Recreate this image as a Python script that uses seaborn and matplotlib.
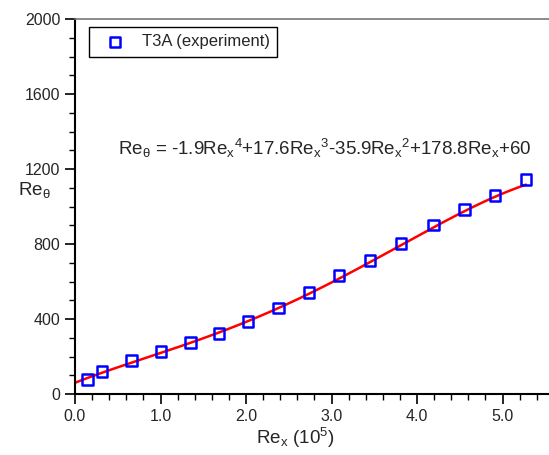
import numpy as np
import pandas as pd
import matplotlib
matplotlib.use("Agg")
import matplotlib.pyplot as plt
from matplotlib.ticker import MultipleLocator, FormatStrFormatter
import seaborn as sns

# Data
rex = [0.144, 0.316, 0.663, 1.006, 1.349, 1.684, 2.023, 2.382, 2.737, 3.088,
       3.45, 3.813, 4.19, 4.553, 4.912, 5.275]
re_theta = [79, 119, 178, 225, 273, 323, 386, 459, 543, 630,
            714, 801, 901, 986, 1060, 1142]
# polynomial fit coefficients, highest order first (from annotation)
fit_coeffs = [-1.9, 17.6, -35.9, 178.8, 60]
series_label = "T3A (experiment)"

sns.set_style("ticks")
plt.rcParams['font.family'] = ['Liberation Sans', 'DejaVu Sans']
plt.rcParams['mathtext.fontset'] = 'custom'
plt.rcParams['mathtext.rm'] = 'Liberation Sans'
plt.rcParams['mathtext.it'] = 'Liberation Sans:italic'

fig = plt.figure(figsize=(5.49, 4.55), dpi=100)
ax = fig.add_axes([75/549, 1-394/455, (549-75)/549, (394-19)/455])

df = pd.DataFrame({"x": rex, "y": re_theta})
xfit = np.linspace(0, max(rex), 200)
fit_df = pd.DataFrame({"x": xfit, "y": np.polyval(fit_coeffs, xfit)})

sns.lineplot(data=fit_df, x="x", y="y", color="#ff0000", linewidth=1.8, ax=ax, legend=False)
sns.scatterplot(data=df, x="x", y="y", marker="s", s=60, facecolor="none",
                edgecolor="#0000ff", linewidth=1.8, ax=ax, label=series_label, zorder=3)

ax.set_xlim(0, (549-75)/85.5)
ax.set_ylim(0, 2000)
ax.xaxis.set_major_locator(MultipleLocator(1.0))
ax.xaxis.set_minor_locator(MultipleLocator(0.2))
ax.xaxis.set_major_formatter(FormatStrFormatter("%.1f"))
ax.yaxis.set_major_locator(MultipleLocator(400))
ax.yaxis.set_minor_locator(MultipleLocator(100))

ax.tick_params(axis='both', which='major', length=7, width=1.2, labelsize=11.5, direction='out', color='black')
ax.tick_params(axis='both', which='minor', length=4, width=1.0, direction='out', color='black')

for s in ['left', 'bottom']:
    ax.spines[s].set_color('black')
    ax.spines[s].set_linewidth(1.5)
ax.spines['top'].set_color('#777777')
ax.spines['top'].set_linewidth(1.2)
ax.spines['right'].set_visible(False)

ax.set_xlabel(r"Re$_\mathregular{x}$ (10$^\mathregular{5}$)", fontsize=13.5, labelpad=2)
ax.xaxis.set_label_coords(0.464, -0.085)
ax.set_ylabel(r"Re$_\mathregular{\theta}$", fontsize=13.5, rotation=0, ha='left', va='center')
ax.yaxis.set_label_coords(-0.12, 0.545)

ax.text((118-75)/474, 0.655,
        r"Re$_\mathregular{\theta}$ = -1.9Re$_\mathregular{x}$$^\mathregular{4}$+17.6Re$_\mathregular{x}$$^\mathregular{3}$-35.9Re$_\mathregular{x}$$^\mathregular{2}$+178.8Re$_\mathregular{x}$+60",
        transform=ax.transAxes, fontsize=13.5, ha='left', va='center')

leg = ax.legend(loc='upper left', bbox_to_anchor=(0.03, 0.979), frameon=True,
                fancybox=False, edgecolor='black', fontsize=12, borderpad=0.45,
                handletextpad=0.5, handlelength=2.2, borderaxespad=0)
leg.get_frame().set_linewidth(1.0)
leg.get_frame().set_alpha(1)

fig.savefig("out.png", dpi=100)
